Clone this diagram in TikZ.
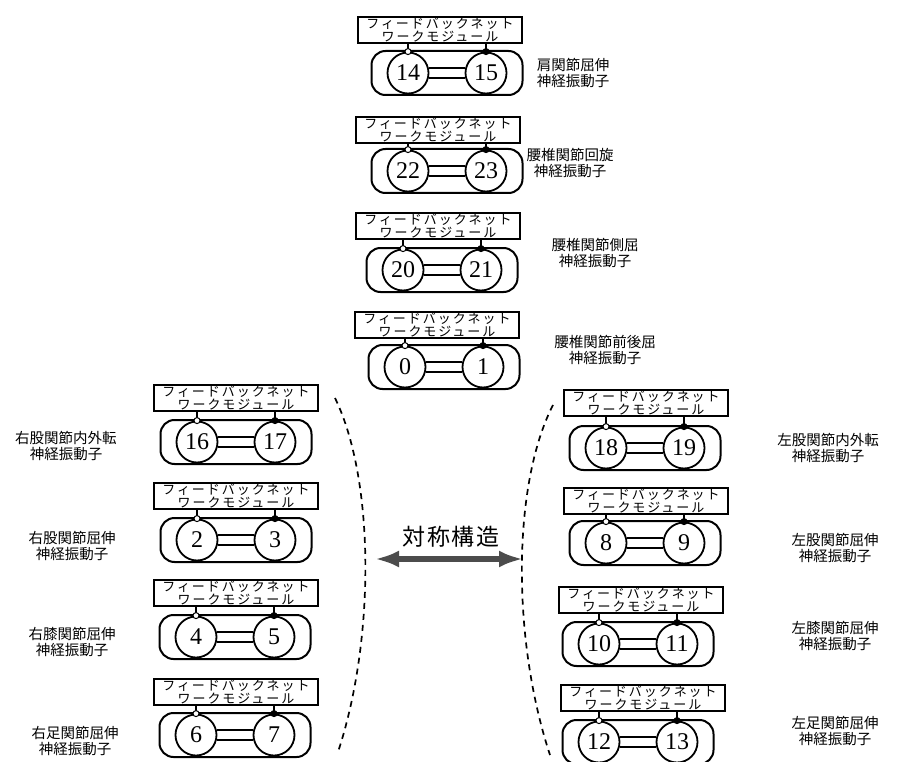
\documentclass[tikz,border=0pt]{standalone}
\usepackage{fontspec}
\newfontfamily\jp{Noto Sans CJK JP}
\newfontfamily\jpbox{Noto Sans CJK JP}[LetterSpace=15]
\newfontfamily\jptitle{Noto Sans CJK JP}[LetterSpace=8]
\newfontfamily\numfont{Liberation Serif}
\usetikzlibrary{arrows.meta}

\tikzset{
  osc/.style={circle, draw, line width=1.8pt, fill=white, minimum size=41pt,
    inner sep=0pt, font=\numfont\fontsize{24}{24}\selectfont},
  fbbox/.style={draw, line width=1.7pt, fill=white, minimum width=164pt,
    minimum height=26pt, inner sep=0pt, align=center,
    font=\jpbox\fontsize{13}{12.5}\selectfont},
  pairframe/.style={draw, line width=2pt, rounded corners=14pt,
    minimum width=151pt, minimum height=44pt, inner sep=0pt},
  opendot/.style={circle, draw, line width=1pt, fill=white, minimum size=6pt, inner sep=0pt},
  fulldot/.style={circle, draw, line width=1pt, fill=black, minimum size=6pt, inner sep=0pt},
  link/.style={line width=1.6pt},
  lbl/.style={align=center, font=\jp\fontsize{14.5}{16}\selectfont},
  symline/.style={dashed, line width=1.7pt, dash pattern=on 6pt off 5pt},
}

% one feedback network module with its pair of oscillators
% #1 id, #2/#3 centre of the pair, #4/#5 centre of the box, #6/#7 oscillator numbers
\newcommand\cpgunit[7]{%
  \node[pairframe] (#1o) at (#2,#3) {};
  \node[osc] (#1a) at (#2-39,#3) {#6};
  \node[osc] (#1b) at (#2+39,#3) {#7};
  \draw[link] (#1a.14) -- (#1b.166);
  \draw[link] (#1a.-14) -- (#1b.-166);
  \node[fbbox] (#1f) at (#4,#5) {フィードバックネット\\ワークモジュール};
  \draw[link] (#1f.south -| #1a.north) -- (#1a.north);
  \draw[link] (#1f.south -| #1b.north) -- (#1b.north);
  \node[opendot] (#1p) at (#1a.north) {};
  \node[fulldot] (#1q) at (#1b.north) {};
}

\begin{document}
\begin{tikzpicture}[x=1pt, y=-1pt]
\path[fill=white, use as bounding box] (0,0) rectangle (910,762);

% trunk and shoulder
\cpgunit{sh}{447}{73}{440}{30}{14}{15}
\cpgunit{rot}{447}{171}{438}{130}{22}{23}
\cpgunit{lat}{442}{270}{438}{226}{20}{21}
\cpgunit{fb}{444}{367}{437}{325}{0}{1}

% right leg
\cpgunit{rha}{236}{442}{236}{398}{16}{17}
\cpgunit{rhf}{236}{540}{236}{496}{2}{3}
\cpgunit{rk}{235}{637}{236}{593}{4}{5}
\cpgunit{ra}{235}{735}{236}{692}{6}{7}

% left leg
\cpgunit{lha}{645}{448}{646}{403}{18}{19}
\cpgunit{lhf}{645}{543}{646}{501}{8}{9}
\cpgunit{lk}{638}{644}{641}{600}{10}{11}
\cpgunit{la}{638}{742}{643}{698}{12}{13}

% oscillator labels
\node[lbl] (shl)  at (573,73)  {肩関節屈伸\\神経振動子};
\node[lbl] (rotl) at (570,163) {腰椎関節回旋\\神経振動子};
\node[lbl] (latl) at (595,253) {腰椎関節側屈\\神経振動子};
\node[lbl] (fbl)  at (605,350) {腰椎関節前後屈\\神経振動子};
\node[lbl] (rhal) at (66,446)  {右股関節内外転\\神経振動子};
\node[lbl] (rhfl) at (72,546)  {右股関節屈伸\\神経振動子};
\node[lbl] (rkl)  at (72,642)  {右膝関節屈伸\\神経振動子};
\node[lbl] (ral)  at (75,741)  {右足関節屈伸\\神経振動子};
\node[lbl] (lhal) at (828,448) {左股関節内外転\\神経振動子};
\node[lbl] (lhfl) at (835,548) {左股関節屈伸\\神経振動子};
\node[lbl] (lkl)  at (835,636) {左膝関節屈伸\\神経振動子};
\node[lbl] (lal)  at (835,731) {左足関節屈伸\\神経振動子};

% symmetry markers
\coordinate (lt) at (335,398);
\coordinate (lbt) at (338,752);
\coordinate (rt) at (553,405);
\coordinate (rbt) at (550,755);
\draw[symline] (lt) .. controls (375,480) and (375,640) .. (lbt);
\draw[symline] (rt) .. controls (512,485) and (512,640) .. (rbt);

\coordinate (symL) at (375,559);
\coordinate (symR) at (523,559);
\draw[line width=6pt, black!70, {Latex[length=24pt,width=17pt]}-{Latex[length=24pt,width=17pt]}] (symL) -- (symR);
\node[font=\jptitle\fontsize{23}{23}\selectfont] (symt) at (451,537) {対称構造};
\end{tikzpicture}
\end{document}
